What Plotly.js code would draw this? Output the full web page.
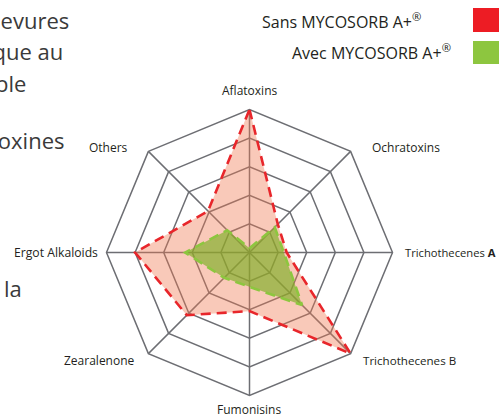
<!DOCTYPE html>
<html>
<head>
<meta charset="utf-8">
<script src="https://cdn.plot.ly/plotly-3.0.1.min.js"></script>
<style>
html,body{margin:0;padding:0;background:#fff;}
#chart{width:499px;height:416px;}
</style>
</head>
<body>
<div id="chart"></div>
<script>
// Categories (axes of the radar)
var categories = ["Aflatoxins", "Ochratoxins", "Trichothecenes A", "Trichothecenes B",
                  "Fumonisins", "Zearalenone", "Ergot Alkaloids", "Others"];
var tickLabels = ["Aflatoxins", "Ochratoxins", "Trichothecenes <b>A</b>", "Trichothecenes B",
                  "Fumonisins", "Zearalenone", "Ergot Alkaloids", "Others"];
// Series values (scale 0-5)
var sansValues = [5.0, 1.4, 1.3, 5.0, 2.05, 3.1, 4.0, 2.05];
var avecValues = [0.15, 1.25, 1.2, 2.6, 1.2, 1.25, 2.25, 1.1];
var seriesNames = ["Sans MYCOSORB A+<sup>®</sup>", "Avec MYCOSORB A+<sup>®</sup>"];
// Surrounding (cropped) paragraph text
var sideText = ["levures", "ique au", "ble", "toxines", "la"];

function closed(a) { return a.concat([a[0]]); }

var grey = "#6d6e73";
var red = "#e8262b";
var green = "#8dc63f";

var traces = [
  {
    type: "scatterpolar",
    r: closed(sansValues),
    theta: closed(categories),
    fill: "toself",
    fillcolor: "rgba(240,120,80,0.40)",
    line: {color: red, width: 2.6, dash: "10px,6px"},
    mode: "lines",
    name: seriesNames[0],
    hoverinfo: "skip"
  },
  {
    type: "scatterpolar",
    r: closed(avecValues),
    theta: closed(categories),
    fill: "toself",
    fillcolor: "rgba(125,175,35,0.65)",
    line: {color: green, width: 2.6, dash: "10px,6px"},
    mode: "lines",
    name: seriesNames[1],
    hoverinfo: "skip"
  }
];

var W = 499, H = 416;
var cx = 249.5, cy = 252.5, R = 143;
function px(x) { return x / W; }
function py(y) { return 1 - y / H; }

var annotations = [];
var sidePos = [[71, 20], [65, 51], [28, 83], [66, 140], [24, 288]];
for (var i = 0; i < sideText.length; i++) {
  annotations.push({
    text: sideText[i], xref: "paper", yref: "paper",
    x: px(sidePos[i][0]), y: py(sidePos[i][1]), xanchor: "right", yanchor: "middle",
    showarrow: false, font: {family: "Open Sans", size: 22, color: "#3a3a3a"}
  });
}
// axis category labels, placed around the octagon
var labelPos = [[249, 90, "center", 12], [370, 147, "left", 12], [403, 253, "left", 11.2],
                [361, 360, "left", 11.6], [249, 409, "center", 12], [137, 360, "right", 12],
                [100, 253, "right", 12.2], [130, 147, "right", 12]];
for (var j = 0; j < tickLabels.length; j++) {
  annotations.push({
    text: tickLabels[j], xref: "paper", yref: "paper",
    x: px(labelPos[j][0]), y: py(labelPos[j][1]), xanchor: labelPos[j][2], yanchor: "middle",
    showarrow: false, font: {family: "Open Sans", size: labelPos[j][3], color: "#231f20"}
  });
}
annotations.push({
  text: seriesNames[0], xref: "paper", yref: "paper", x: px(423), y: py(21),
  xanchor: "right", yanchor: "middle", showarrow: false,
  font: {family: "Open Sans", size: 16, color: "#231f20"}
});
annotations.push({
  text: seriesNames[1], xref: "paper", yref: "paper", x: px(453), y: py(52),
  xanchor: "right", yanchor: "middle", showarrow: false,
  font: {family: "Open Sans", size: 16, color: "#231f20"}
});

var shapes = [
  {type: "rect", xref: "paper", yref: "paper", x0: px(473), x1: px(499), y0: py(8), y1: py(32),
   fillcolor: "#ed1c24", line: {width: 0}},
  {type: "rect", xref: "paper", yref: "paper", x0: px(473), x1: px(499), y0: py(41), y1: py(64),
   fillcolor: green, line: {width: 0}}
];

var layout = {
  width: W, height: H,
  margin: {l: 0, r: 0, t: 0, b: 0},
  paper_bgcolor: "#ffffff",
  showlegend: false,
  font: {family: "Open Sans", color: "#231f20"},
  polar: {
    domain: {x: [px(cx - R), px(cx + R)], y: [py(cy + R), py(cy - R)]},
    bgcolor: "rgba(0,0,0,0)",
    gridshape: "linear",
    angularaxis: {
      type: "category",
      categoryorder: "array",
      categoryarray: categories,
      rotation: 90,
      direction: "clockwise",
      showline: true, linecolor: grey, linewidth: 1.5,
      showgrid: true, gridcolor: grey, gridwidth: 1.5,
      showticklabels: false, ticks: "",
      layer: "below traces"
    },
    radialaxis: {
      range: [0, 5], dtick: 1, tick0: 0,
      showticklabels: false, ticks: "",
      showline: false,
      showgrid: true, gridcolor: grey, gridwidth: 1.5,
      layer: "below traces"
    }
  },
  annotations: annotations,
  shapes: shapes
};

Plotly.newPlot("chart", traces, layout, {staticPlot: true, displayModeBar: false});
</script>
</body>
</html>
